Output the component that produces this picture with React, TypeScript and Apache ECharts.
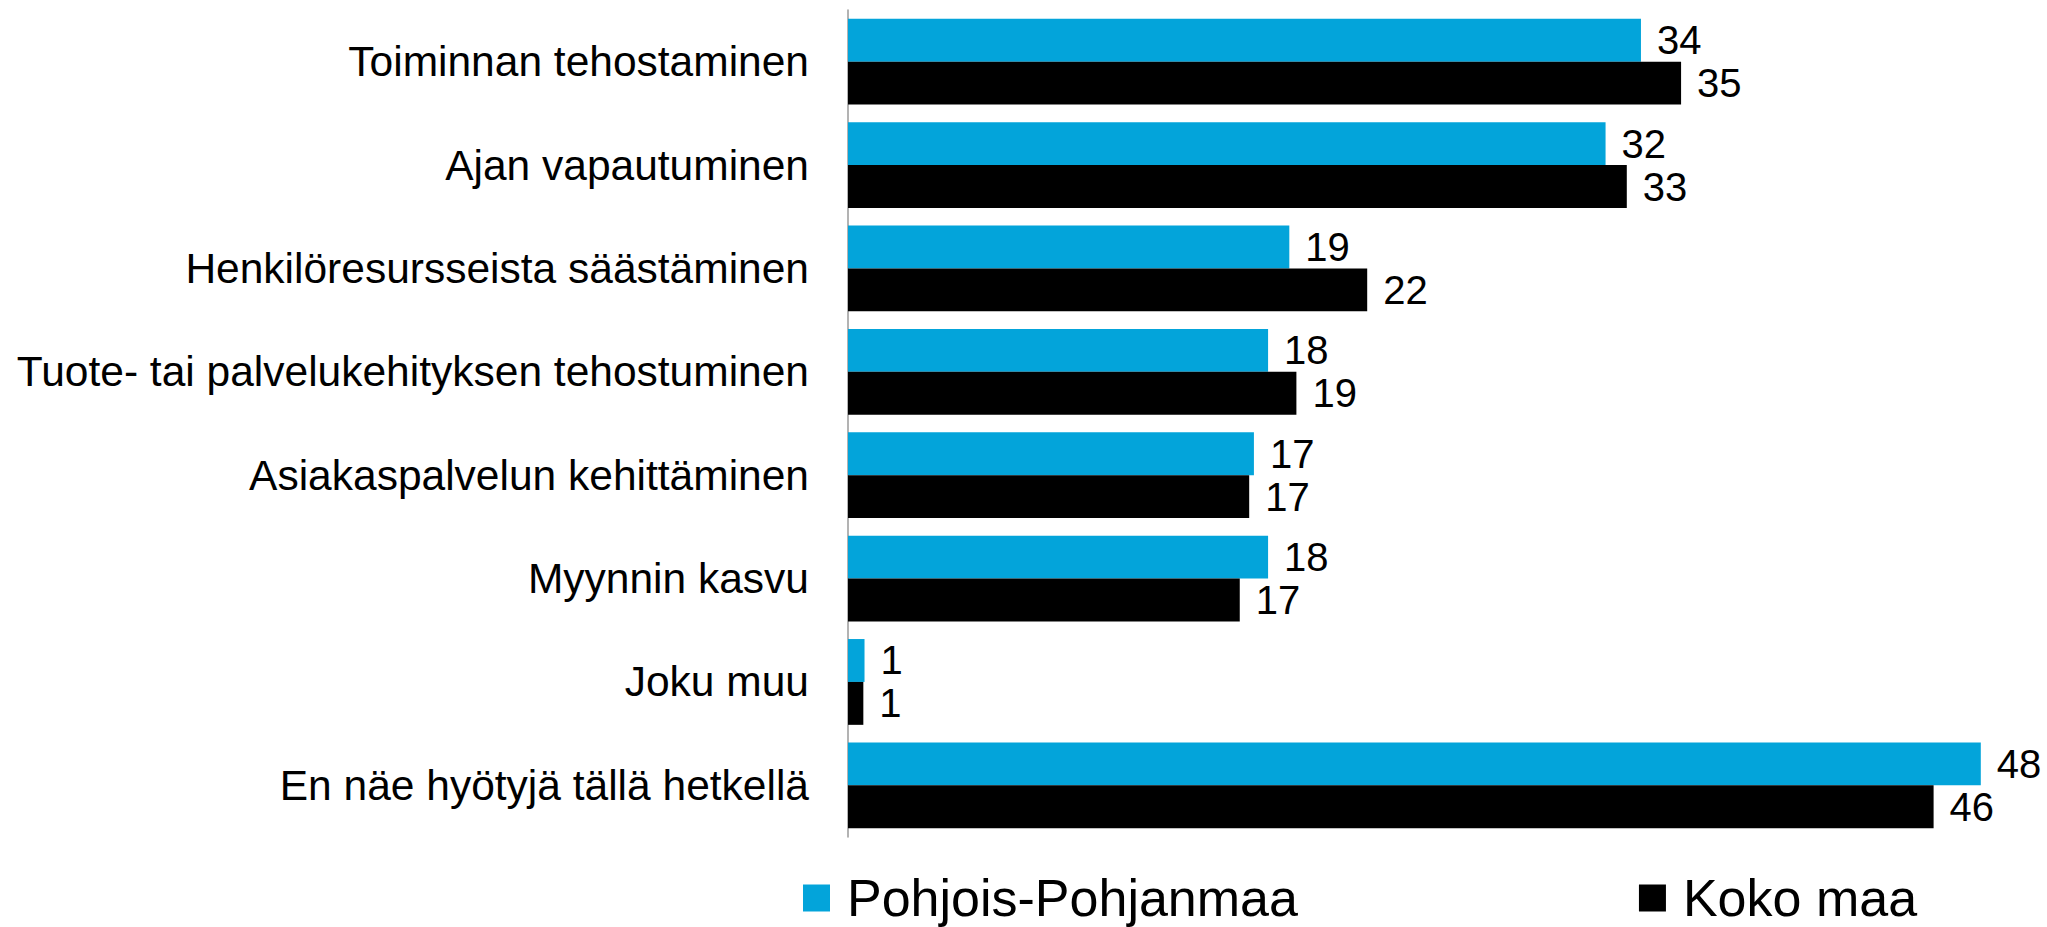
import React, { useEffect, useRef } from "react";
import * as echarts from "echarts";

const categories = [
  "Toiminnan tehostaminen",
  "Ajan vapautuminen",
  "Henkilöresursseista säästäminen",
  "Tuote- tai palvelukehityksen tehostuminen",
  "Asiakaspalvelun kehittäminen",
  "Myynnin kasvu",
  "Joku muu",
  "En näe hyötyjä tällä hetkellä",
];

const seriesNames = ["Pohjois-Pohjanmaa", "Koko maa"];
const pohjoisPohjanmaa = [33.6, 32.1, 18.7, 17.8, 17.2, 17.8, 0.7, 48.0];
const kokoMaa = [35.3, 33.0, 22.0, 19.0, 17.0, 16.6, 0.65, 46.0];
const colors = ["#03A4DA", "#000000"];

const FONT = '"Liberation Sans", Arial, sans-serif';

export default function App() {
  const ref = useRef<HTMLDivElement>(null);
  useEffect(() => {
    if (!ref.current) return;
    const chart = echarts.init(ref.current, undefined, { renderer: "svg" });
    const label = {
      show: true,
      position: "right",
      distance: 16,
      fontSize: 40,
      fontFamily: FONT,
      color: "#000",
      formatter: (p: any) => String(Math.round(p.value)),
    };
    chart.setOption({
      animation: false,
      backgroundColor: "#fff",
      textStyle: { fontFamily: FONT },
      grid: { left: 848, top: 10, width: 1180, height: 827, containLabel: false },
      legend: {
        data: seriesNames,
        left: 803,
        top: 872,
        padding: 0,
        itemWidth: 27,
        itemHeight: 27,
        itemGap: 341,
        icon: "rect",
        textStyle: {
          fontSize: 52,
          lineHeight: 48,
          fontFamily: FONT,
          color: "#000",
          padding: [0, 0, 0, 12],
        },
      },
      xAxis: {
        type: "value",
        min: 0,
        max: 50,
        show: false,
        splitLine: { show: false },
      },
      yAxis: {
        type: "category",
        data: categories,
        inverse: true,
        axisTick: { show: false },
        axisLine: { show: true, lineStyle: { color: "#9a9a9a", width: 1.5 } },
        axisLabel: { fontSize: 42.5, fontFamily: FONT, color: "#000", margin: 39 },
      },
      series: [
        {
          name: seriesNames[0],
          type: "bar",
          data: pohjoisPohjanmaa,
          itemStyle: { color: colors[0] },
          barGap: "0%",
          barCategoryGap: "17%",
          label,
        },
        {
          name: seriesNames[1],
          type: "bar",
          data: kokoMaa,
          itemStyle: { color: colors[1] },
          barGap: "0%",
          barCategoryGap: "17%",
          label,
        },
      ],
    });
    return () => chart.dispose();
  }, []);
  return (
    <div
      ref={ref}
      style={{ position: "fixed", left: 0, top: 0, width: 2047, height: 927, background: "#fff" }}
    />
  );
}
